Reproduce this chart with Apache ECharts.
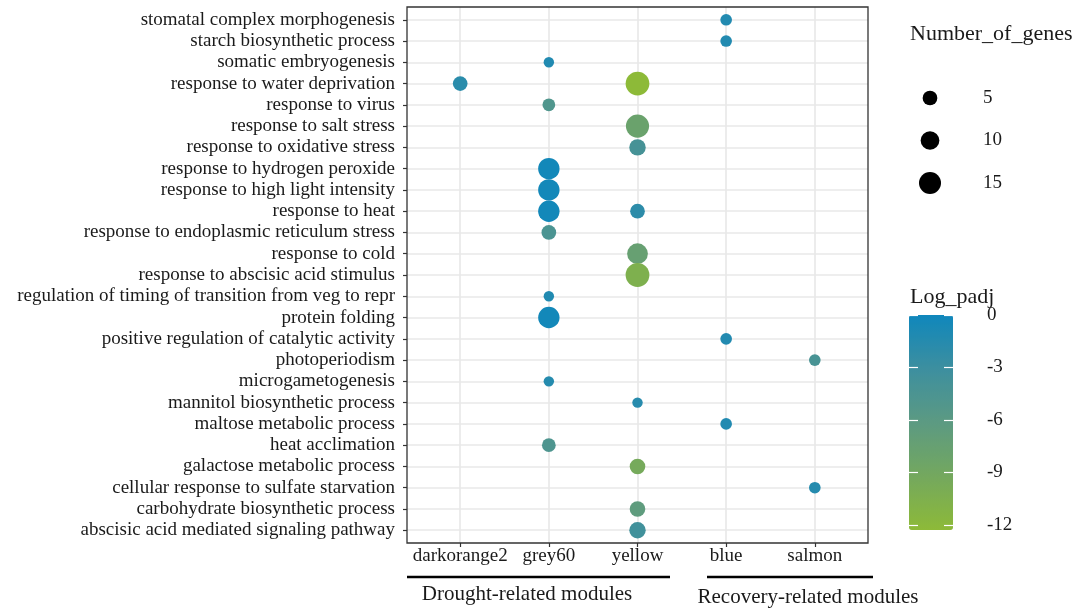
<!DOCTYPE html>
<html>
<head>
<meta charset="utf-8">
<script src="https://cdn.jsdelivr.net/npm/echarts@6/dist/echarts.min.js"></script>
<style>html,body{margin:0;padding:0;background:#fff;}#c{width:1081px;height:609px;}</style>
</head>
<body>
<div id="c"></div>
<script>
// ---- data ----
const terms = [
  'stomatal complex morphogenesis',
  'starch biosynthetic process',
  'somatic embryogenesis',
  'response to water deprivation',
  'response to virus',
  'response to salt stress',
  'response to oxidative stress',
  'response to hydrogen peroxide',
  'response to high light intensity',
  'response to heat',
  'response to endoplasmic reticulum stress',
  'response to cold',
  'response to abscisic acid stimulus',
  'regulation of timing of transition from veg to repr',
  'protein folding',
  'positive regulation of catalytic activity',
  'photoperiodism',
  'microgametogenesis',
  'mannitol biosynthetic process',
  'maltose metabolic process',
  'heat acclimation',
  'galactose metabolic process',
  'cellular response to sulfate starvation',
  'carbohydrate biosynthetic process',
  'abscisic acid mediated signaling pathway'
];
const modules = ['darkorange2', 'grey60', 'yellow', 'blue', 'salmon'];

const pointTerm = [
  'stomatal complex morphogenesis', 'starch biosynthetic process', 'somatic embryogenesis',
  'response to water deprivation', 'response to water deprivation', 'response to virus',
  'response to salt stress', 'response to oxidative stress', 'response to hydrogen peroxide',
  'response to high light intensity', 'response to heat', 'response to heat',
  'response to endoplasmic reticulum stress', 'response to cold', 'response to abscisic acid stimulus',
  'regulation of timing of transition from veg to repr', 'protein folding',
  'positive regulation of catalytic activity', 'photoperiodism', 'microgametogenesis',
  'mannitol biosynthetic process', 'maltose metabolic process', 'heat acclimation',
  'galactose metabolic process', 'cellular response to sulfate starvation',
  'carbohydrate biosynthetic process', 'abscisic acid mediated signaling pathway'
];
const pointModule = [
  'blue', 'blue', 'grey60',
  'darkorange2', 'yellow', 'grey60',
  'yellow', 'yellow', 'grey60',
  'grey60', 'grey60', 'yellow',
  'grey60', 'yellow', 'yellow',
  'grey60', 'grey60',
  'blue', 'salmon', 'grey60',
  'yellow', 'blue', 'grey60',
  'yellow', 'salmon',
  'yellow', 'yellow'
];
const pointGenes = [
  2, 2, 1,
  5, 18, 3,
  17, 7, 14,
  14, 14, 5,
  5, 13, 18,
  1, 14,
  2, 2, 1,
  1, 2, 4,
  6, 2,
  6, 7
];
const pointLogPadj = [
  -1.3, -1.3, -1.2,
  -1.8, -12.29, -5.0,
  -8.0, -4.0, -0.3,
  -0.3, -0.3, -2.0,
  -4.5, -7.5, -10.5,
  -1.2, -0.3,
  -1.3, -4.2, -1.5,
  -1.6, -1.2, -4.8,
  -9.5, -1.5,
  -6.5, -3.5
];
const sizeLegendValues = [5, 10, 15];
const colorTicks = [0, -3, -6, -9, -12];
const colorMin = -12.29, colorMax = 0;
// ---- end data ----

const FONT = '"Liberation Serif", "Times New Roman", serif';
const TXT = '#1a1a1a';
const sizeOf = n => Math.sqrt(82 + 26.8 * n);

const pts = pointTerm.map((t, i) => [
  modules.indexOf(pointModule[i]) + 1,
  terms.indexOf(t) + 1,
  pointGenes[i],
  pointLogPadj[i]
]);

const tickAxis = (pos, offset, inside) => ({
  gridIndex: 2, type: 'value', min: colorMin, max: colorMax, position: pos, offset: offset, z: 10,
  axisLine: {show: false}, splitLine: {show: false},
  axisTick: {show: true, inside: inside, length: 9, lineStyle: {color: '#fff', width: 1.2}, customValues: colorTicks},
  axisLabel: {show: false}
});

const chart = echarts.init(document.getElementById('c'), null, {renderer: 'canvas'});
chart.setOption({
  animation: false,
  backgroundColor: '#fff',
  grid: [
    {left: 407, top: 7, width: 461, height: 536, show: true, borderColor: '#333', borderWidth: 1.3, backgroundColor: 'transparent', z: 3},
    {left: 915, top: 76.75, width: 30, height: 127.5},
    {left: 909, top: 315, width: 44, height: 215}
  ],
  xAxis: [
    {
      gridIndex: 0, type: 'value', min: 0.4, max: 5.6,
      axisLine: {show: false},
      axisTick: {show: true, length: 4, lineStyle: {color: '#333', width: 1.2}, customValues: modules.map((m, i) => i + 1)},
      axisLabel: {show: true, margin: 4, color: TXT, fontFamily: FONT, fontSize: 19,
        customValues: modules.map((m, i) => i + 1),
        formatter: v => modules[Math.round(v) - 1] || ''},
      splitLine: {show: true, lineStyle: {color: '#e8e8e8', width: 1.6}}
    },
    {gridIndex: 1, type: 'value', min: -1, max: 1, show: false},
    {gridIndex: 2, type: 'value', min: 0, max: 1, show: false}
  ],
  yAxis: [
    {
      gridIndex: 0, type: 'value', min: 0.4, max: 25.6, inverse: true,
      axisLine: {show: false},
      axisTick: {show: true, length: 4, lineStyle: {color: '#333', width: 1.2}, customValues: terms.map((t, i) => i + 1)},
      axisLabel: {show: true, margin: 12, color: TXT, fontFamily: FONT, fontSize: 19,
        customValues: terms.map((t, i) => i + 1),
        formatter: v => terms[Math.round(v) - 1] || ''},
      splitLine: {show: true, lineStyle: {color: '#e8e8e8', width: 1.6}}
    },
    {
      gridIndex: 1, type: 'category', inverse: true, data: sizeLegendValues.map(String),
      position: 'right',
      axisLine: {show: false}, axisTick: {show: false}, splitLine: {show: false},
      axisLabel: {show: true, margin: 38, align: 'left', color: TXT, fontFamily: FONT, fontSize: 19}
    },
    {
      gridIndex: 2, type: 'value', min: colorMin, max: colorMax, position: 'right', z: 10,
      axisLine: {show: false}, splitLine: {show: false}, axisTick: {show: false},
      axisLabel: {show: true, margin: 34, align: 'left', color: TXT, fontFamily: FONT, fontSize: 19,
        customValues: colorTicks, formatter: v => String(Math.round(v))}
    },
    tickAxis('left', 0, true),
    tickAxis('left', -44, false)
  ],
  visualMap: {
    type: 'continuous', seriesIndex: 0, dimension: 3,
    min: colorMin, max: colorMax, calculable: false, hoverLink: false,
    left: 909, top: 315, itemWidth: 44, itemHeight: 215, padding: 0,
    showLabel: false, text: null,
    inRange: {color: ['#8dba38', '#74a85e', '#5c9a82', '#3d8f9f', '#0f87bc']}
  },
  series: [
    {
      type: 'scatter', xAxisIndex: 0, yAxisIndex: 0, z: 5,
      data: pts,
      symbolSize: d => sizeOf(d[2]),
      itemStyle: {opacity: 1}
    },
    {
      type: 'scatter', xAxisIndex: 1, yAxisIndex: 1,
      data: sizeLegendValues.map(v => [0, String(v), v]),
      symbolSize: d => sizeOf(d[2]),
      itemStyle: {color: '#000', opacity: 1}
    }
  ],
  graphic: [
    {type: 'text', left: 910, top: 23, style: {text: 'Number_of_genes', font: '22px ' + FONT, fill: TXT}},
    {type: 'text', left: 910, top: 286, style: {text: 'Log_padj', font: '22px ' + FONT, fill: TXT}},
    {type: 'line', shape: {x1: 407, y1: 577, x2: 670, y2: 577}, style: {stroke: '#000', lineWidth: 2.6}},
    {type: 'line', shape: {x1: 707, y1: 577, x2: 873, y2: 577}, style: {stroke: '#000', lineWidth: 2.6}},
    {type: 'text', x: 527, y: 594, style: {text: 'Drought-related modules', font: '21px ' + FONT, fill: TXT, align: 'center', verticalAlign: 'middle'}},
    {type: 'text', x: 808, y: 597, style: {text: 'Recovery-related modules', font: '21px ' + FONT, fill: TXT, align: 'center', verticalAlign: 'middle'}}
  ]
});
</script>
</body>
</html>
